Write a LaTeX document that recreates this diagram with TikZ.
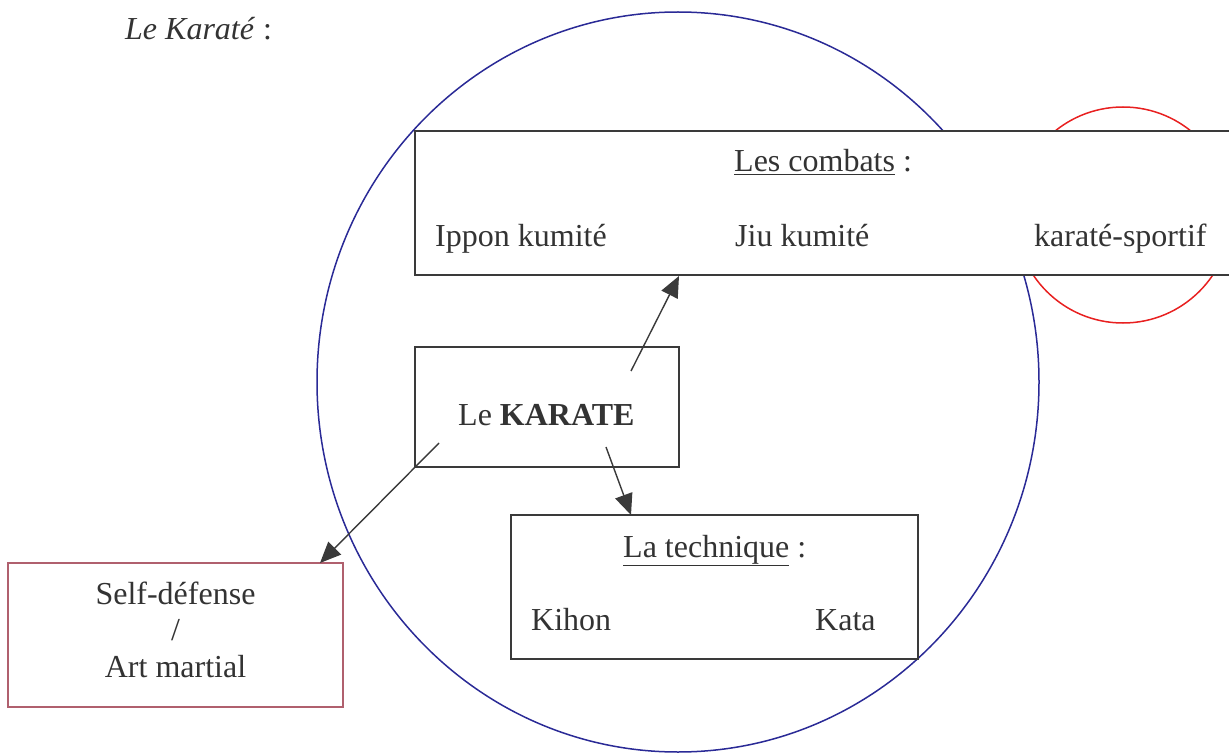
\documentclass[tikz,border=0pt]{standalone}
\usepackage{fontspec}
\setmainfont{Liberation Serif}
\usetikzlibrary{arrows.meta}
\definecolor{txtgray}{HTML}{333333}
\definecolor{boxgray}{HTML}{3A3A3A}
\definecolor{selfred}{HTML}{B0606E}
\definecolor{ringblue}{HTML}{2A2A96}
\definecolor{ringred}{HTML}{E82020}
\begin{document}
\begin{tikzpicture}[x=1pt, y=-1pt,
  box/.style={draw=boxgray, line width=1.6pt, fill=white, inner sep=0pt},
  lbl/.style={text=txtgray, inner sep=0pt, font=\fontsize{32}{36.5}\selectfont},
  arr/.style={draw=boxgray, line width=1.4pt, -{Triangle[length=21pt,width=18pt]}}]
\path[use as bounding box, clip] (0,0) rectangle (1229,754);
%circles behind the boxes
\draw[ringblue, line width=1.5pt] (678,382) ellipse [x radius=361, y radius=370];
\draw[ringred, line width=1.5pt] (1123,215) circle [radius=108];
%boxes
\node[box, minimum width=850, minimum height=144] (combats) at (840,203) {};
\node[box, minimum width=264, minimum height=120] (karate) at (547,407) {};
\node[box, minimum width=407, minimum height=144] (technique) at (714.5,587) {};
\node[box, draw=selfred, minimum width=335, minimum height=144] (self) at (175.5,635) {};
%title
\node[lbl, anchor=base west] (title) at (125,40) {\textit{Le Karaté} :};
%texts of the combats
\node[lbl, anchor=base west] (combatstitle) at (734,172) {\underline{Les combats} :};
\node[lbl, anchor=base west] (ippon) at (435,247) {Ippon kumité};
\node[lbl, anchor=base west] (jiu) at (735,247) {Jiu kumité};
\node[lbl, anchor=base west] (sportif) at (1034,247) {karaté-sportif};
%center
\node[lbl, anchor=base west] (karatetext) at (458,425) {Le \textbf{KARATE}};
%texts of the technique
\node[lbl, anchor=base west] (techniquetitle) at (623,557) {\underline{La technique} :};
\node[lbl, anchor=base west] (kihon) at (531,630) {Kihon};
\node[lbl, anchor=base west] (kata) at (815,630) {Kata};
%self defense
\node[lbl, align=center, anchor=base] (selftext) at (175.5,677) {Self-défense\\/\\Art martial};
%arrow ends
\coordinate (k1) at (631,371);
\coordinate (c1) at (679,276);
\coordinate (k2) at (606,447);
\coordinate (t1) at (631,515);
\coordinate (k3) at (439,443);
\coordinate (s1) at (320,563);
\draw[arr] (k1) -- (c1);
\draw[arr] (k2) -- (t1);
\draw[arr] (k3) -- (s1);
\end{tikzpicture}
\end{document}
